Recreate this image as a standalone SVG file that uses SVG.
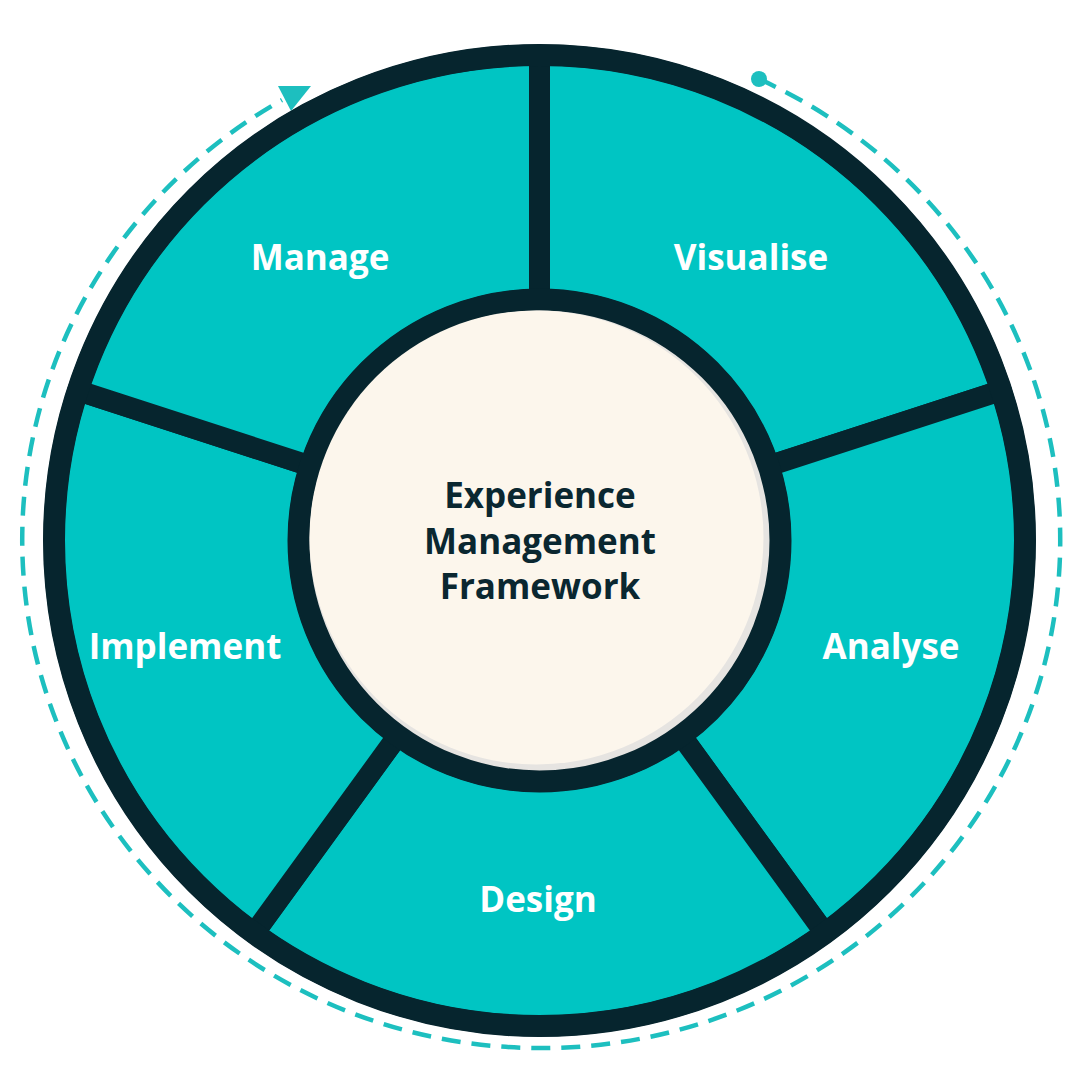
<svg xmlns="http://www.w3.org/2000/svg" width="1080" height="1080" viewBox="0 0 1080 1080">
  <style>
    .seg { fill: #00C5C3; stroke: #06252E; stroke-width: 21; stroke-linejoin: round; }
    .rim { fill: none; stroke: #06252E; stroke-width: 22; }
    .lbl { font-family: "Open Sans", "Noto Sans", "Liberation Sans", sans-serif; font-weight: 700; font-size: 35px; fill: #FFFFFF; text-anchor: middle; }
    .ctr { font-family: "Open Sans", "Noto Sans", "Liberation Sans", sans-serif; font-weight: 700; font-size: 35px; fill: #0A2730; text-anchor: middle; }
    .flow { fill: none; stroke: #1DBFBF; stroke-width: 4.5; stroke-dasharray: 19 11; }
  </style>
  <rect width="1080" height="1080" fill="#FFFFFF"/>

  <g id="connectors">
    <path class="flow" d="M 758.6 78.8 A 519 508 0 1 1 282 100"/>
    <circle cx="759" cy="79" r="8" fill="#1DBFBF"/>
    <polygon points="278,86 311,86 291,111" fill="#1DBFBF"/>
  </g>

  <g id="node-visualise">
    <path class="seg" d="M 539.5 299.5 L 539.5 55 A 485.5 485.5 0 0 1 1001.24 390.47 L 768.7 466.03 A 241 241 0 0 0 539.5 299.5 Z"/>
    <text class="lbl" x="751" y="270">Visualise</text>
  </g>
  <g id="node-analyse">
    <path class="seg" d="M 768.7 466.03 L 1001.24 390.47 A 485.5 485.5 0 0 1 824.87 933.28 L 681.16 735.47 A 241 241 0 0 0 768.7 466.03 Z"/>
    <text class="lbl" x="891" y="659">Analyse</text>
  </g>
  <g id="node-design">
    <path class="seg" d="M 681.16 735.47 L 824.87 933.28 A 485.5 485.5 0 0 1 254.13 933.28 L 397.84 735.47 A 241 241 0 0 0 681.16 735.47 Z"/>
    <text class="lbl" x="538" y="912">Design</text>
  </g>
  <g id="node-implement">
    <path class="seg" d="M 397.84 735.47 L 254.13 933.28 A 485.5 485.5 0 0 1 77.76 390.47 L 310.3 466.03 A 241 241 0 0 0 397.84 735.47 Z"/>
    <text class="lbl" x="185" y="659">Implement</text>
  </g>
  <g id="node-manage">
    <path class="seg" d="M 310.3 466.03 L 77.76 390.47 A 485.5 485.5 0 0 1 539.5 55 L 539.5 299.5 A 241 241 0 0 0 310.3 466.03 Z"/>
    <text class="lbl" x="320" y="270">Manage</text>
  </g>

  <circle class="rim" cx="539.5" cy="540.5" r="485.5"/>

  <g id="node-center">
    <circle cx="539.5" cy="540.5" r="241" fill="#E6E4E1" stroke="#06252E" stroke-width="22"/>
    <circle cx="536.5" cy="537.5" r="227" fill="#FCF6EC"/>
    <text class="ctr" x="540" y="508">Experience</text>
    <text class="ctr" x="540" y="554">Management</text>
    <text class="ctr" x="540" y="599">Framework</text>
  </g>
</svg>
